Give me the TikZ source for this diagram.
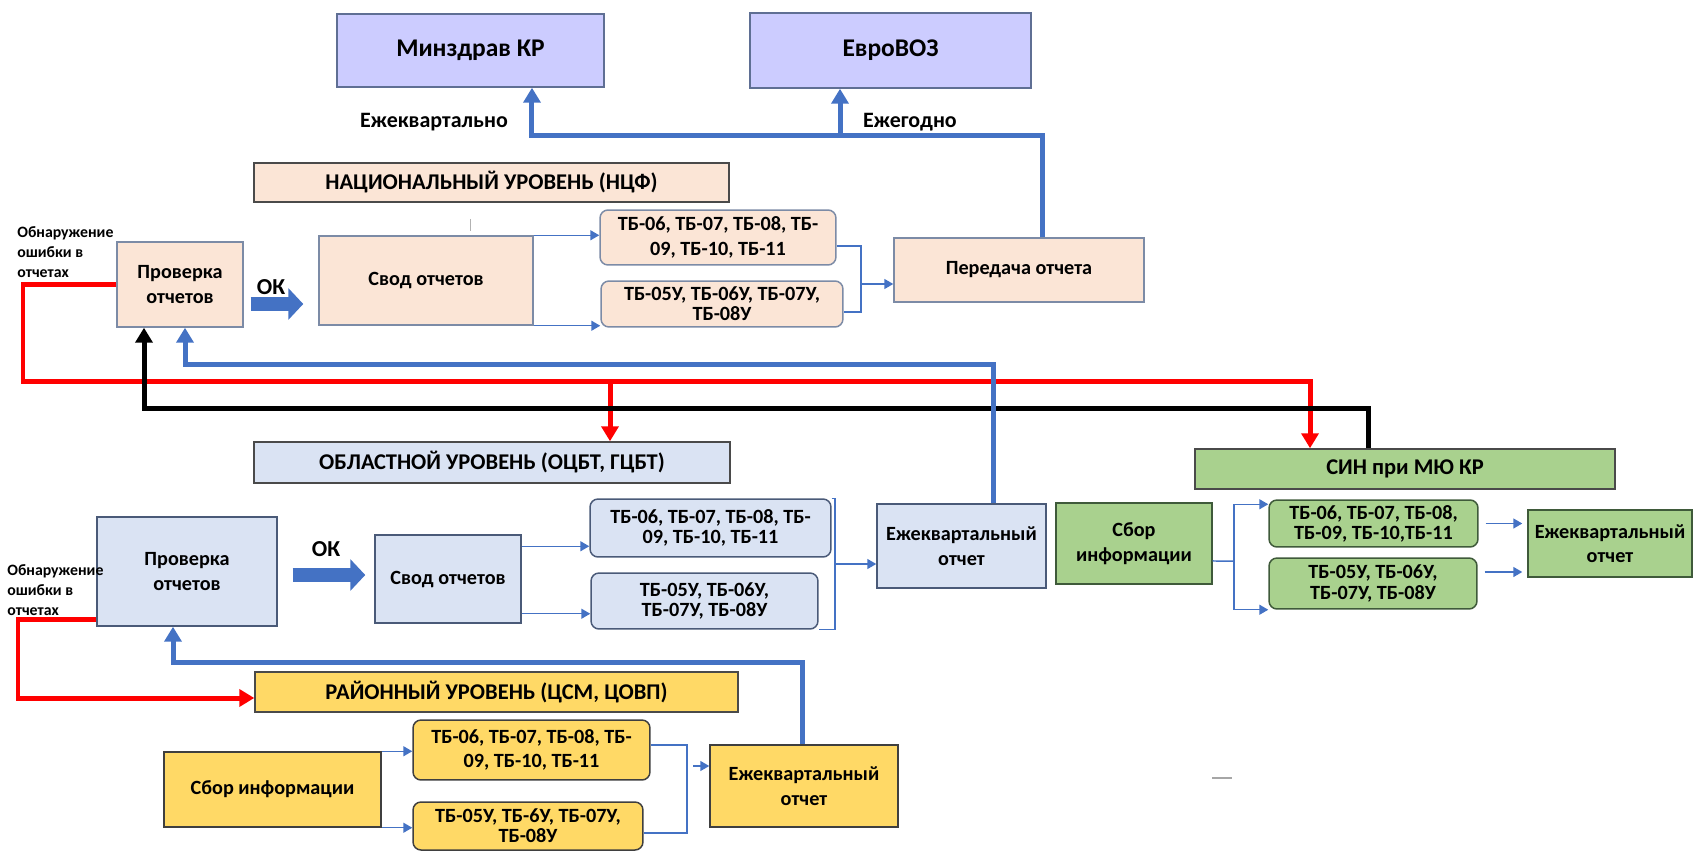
\documentclass[tikz,border=0pt]{standalone}
\usepackage{fontspec}
\setmainfont{Carlito}
\usetikzlibrary{arrows.meta}

\definecolor{lav}{HTML}{CCCCFF}
\definecolor{lavline}{HTML}{5F6F94}
\definecolor{peach}{HTML}{FBE5D6}
\definecolor{peachline}{HTML}{7C8BA6}
\definecolor{lblue}{HTML}{DAE3F3}
\definecolor{lblueline}{HTML}{4A5A78}
\definecolor{grn}{HTML}{A9D18E}
\definecolor{grnline}{HTML}{3F5A3A}
\definecolor{yel}{HTML}{FFD966}
\definecolor{yelline}{HTML}{3F3F3F}
\definecolor{headline}{HTML}{4A4A4A}
\definecolor{bluel}{HTML}{4472C4}

\begin{document}
\begin{tikzpicture}[x=0.02cm, y=-0.02cm,
    box/.style={draw, line width=0.03cm, align=center, inner sep=1pt,
      font=\bfseries\fontsize{11.5}{14}\selectfont},
    tbbox/.style={box, rounded corners=0.16cm},
    tight/.style={font=\bfseries\fontsize{11.5}{11.5}\selectfont},
    topbox/.style={box, fill=lav, draw=lavline,
      font=\bfseries\fontsize{14.5}{17}\selectfont},
    head/.style={box, draw=headline, font=\bfseries\fontsize{12.8}{15}\selectfont},
    natbox/.style={fill=peach, draw=peachline},
    oblbox/.style={fill=lblue, draw=lblueline},
    sinbox/.style={fill=grn, draw=grnline},
    raybox/.style={fill=yel, draw=yelline},
    fat/.style={line width=0.1cm, -{Triangle[width=0.34cm,length=0.3cm]}},
    fatblue/.style={fat, color=bluel},
    fatred/.style={fat, color=red},
    fatblack/.style={fat, color=black},
    link/.style={line width=0.03cm, color=bluel},
    linkarr/.style={link, -{Triangle[width=0.2cm,length=0.18cm]}},
    okarrow/.style={color=bluel, line width=0.28cm,
      -{Triangle[width=0.62cm,length=0.3cm]}},
    note/.style={font=\bfseries\fontsize{9}{11.4}\selectfont, align=left,
      inner sep=0pt},
    lbl/.style={font=\bfseries\fontsize{12.5}{15}\selectfont, inner sep=0pt}]
    \useasboundingbox (0,0) rectangle (1694,851);

    % top
    \node[topbox, minimum width=5.34cm, minimum height=1.46cm] (minz) at (470.5,50.5) {Минздрав КР};
    \node[topbox, minimum width=5.62cm, minimum height=1.5cm] (evro) at (890.5,50.5) {ЕвроВОЗ};
    \node[lbl] (lblQuart) at (434,122) {Ежеквартально};
    \node[lbl] (lblYear) at (910,122) {Ежегодно};

    % national level
    \node[natbox, head, minimum width=9.5cm, minimum height=0.78cm] (natHead) at (491.5,182.5) {НАЦИОНАЛЬНЫЙ УРОВЕНЬ (НЦФ)};
    \node[box, natbox, minimum width=2.52cm, minimum height=1.7cm] (natCheck) at (180,284.5) {Проверка\\отчетов};
    \node[box, natbox, minimum width=4.28cm, minimum height=1.78cm] (natSum) at (426,280.5) {Свод отчетов};
    \node[tbbox, natbox, minimum width=4.72cm, minimum height=1.1cm] (natTBa) at (718,237.5) {ТБ-06, ТБ-07, ТБ-08, ТБ-\\09, ТБ-10, ТБ-11};
    \node[tbbox, natbox, tight, minimum width=4.84cm, minimum height=0.92cm] (natTBb) at (722,304) {ТБ-05У, ТБ-06У, ТБ-07У,\\ТБ-08У};
    \node[box, natbox, minimum width=5cm, minimum height=1.28cm] (natSend) at (1019,270) {Передача отчета};
    \node[note, anchor=west] (natErr) at (17,252) {Обнаружение\\ошибки в\\отчетах};
    \node[lbl, font=\bfseries\fontsize{13}{15}\selectfont] (natOk) at (271,287) {ОК};

    % regional level
    \node[oblbox, head, minimum width=9.52cm, minimum height=0.82cm] (oblHead) at (492,462.5) {ОБЛАСТНОЙ УРОВЕНЬ (ОЦБТ, ГЦБТ)};
    \node[box, oblbox, minimum width=3.6cm, minimum height=2.18cm] (oblCheck) at (187,571.5) {Проверка\\отчетов};
    \node[box, oblbox, minimum width=2.92cm, minimum height=1.76cm] (oblSum) at (448,579) {Свод отчетов};
    \node[tbbox, oblbox, tight, minimum width=4.82cm, minimum height=1.16cm] (oblTBa) at (710.5,528) {ТБ-06, ТБ-07, ТБ-08, ТБ-\\09, ТБ-10, ТБ-11};
    \node[tbbox, oblbox, tight, minimum width=4.54cm, minimum height=1.12cm] (oblTBb) at (704.5,601) {ТБ-05У, ТБ-06У,\\ТБ-07У, ТБ-08У};
    \node[box, oblbox, minimum width=3.38cm, minimum height=1.68cm] (oblRep) at (961.5,546) {Ежеквартальный\\отчет};
    \node[note, anchor=west] (oblErr) at (7,590) {Обнаружение\\ошибки в\\отчетах};
    \node[lbl, font=\bfseries\fontsize{13}{15}\selectfont] (oblOk) at (326,549) {ОК};

    % penitentiary service
    \node[sinbox, head, minimum width=8.4cm, minimum height=0.8cm] (sinHead) at (1405,469) {СИН при МЮ КР};
    \node[box, sinbox, minimum width=3.12cm, minimum height=1.62cm] (sinCol) at (1134,543.5) {Сбор\\информации};
    \node[tbbox, sinbox, tight, minimum width=4.18cm, minimum height=0.94cm] (sinTBa) at (1373.5,523.5) {ТБ-06, ТБ-07, ТБ-08,\\ТБ-09, ТБ-10,ТБ-11};
    \node[tbbox, sinbox, tight, minimum width=4.16cm, minimum height=1.02cm] (sinTBb) at (1373,583.5) {ТБ-05У, ТБ-06У,\\ТБ-07У, ТБ-08У};
    \node[box, sinbox, minimum width=3.28cm, minimum height=1.34cm] (sinRep) at (1610,543.5) {Ежеквартальный\\отчет};

    % district level
    \node[raybox, head, minimum width=9.66cm, minimum height=0.8cm] (rayHead) at (496.5,692) {РАЙОННЫЙ УРОВЕНЬ (ЦСМ, ЦОВП)};
    \node[box, raybox, minimum width=4.34cm, minimum height=1.5cm] (rayCol) at (272.5,789.5) {Сбор информации};
    \node[tbbox, raybox, minimum width=4.74cm, minimum height=1.2cm] (rayTBa) at (531.5,750) {ТБ-06, ТБ-07, ТБ-08, ТБ-\\09, ТБ-10, ТБ-11};
    \node[tbbox, raybox, tight, minimum width=4.6cm, minimum height=0.96cm] (rayTBb) at (528,826) {ТБ-05У, ТБ-6У, ТБ-07У,\\ТБ-08У};
    \node[box, raybox, minimum width=3.76cm, minimum height=1.64cm] (rayRep) at (804,786) {Ежеквартальный\\отчет};

    % stray marks
    \draw[gray!60, line width=0.02cm] (470,219) -- (470,231);
    \draw[gray!70, line width=0.03cm] (1212,778) -- (1232,778);

    % reports going up
    \coordinate (topBus) at (840,136);
    \draw[fatblue] ([xshift=0.46cm]natSend.north) |- (topBus) -| ([xshift=1.23cm]minz.south);
    \draw[fatblue] (topBus) -- (topBus |- evro.south);

    % errors sent back
    \coordinate (redCorner) at (23,381);
    \coordinate (redFork) at (610,381);
    \draw[fatred] (natCheck.west) -| (redCorner) -| ([xshift=-1.9cm]sinHead.north);
    \draw[fatred] (redFork) -- (redFork |- oblHead.north);
    \coordinate (redCornerB) at (18,698);
    \draw[fatred] ([yshift=0.14cm]oblCheck.south west) -| (redCornerB) -- (redCornerB -| rayHead.west);

    \coordinate (blackCorner) at (144,408);
    \draw[fatblack] ([xshift=-0.74cm]sinHead.north) |- (blackCorner) -- (blackCorner |- natCheck.south);

    \coordinate (blueCorner) at (185,364);
    \draw[fatblue] ([xshift=0.63cm]oblRep.north) |- (blueCorner) -- (blueCorner |- natCheck.south);
    \coordinate (blueCornerB) at (173,662);
    \draw[fatblue] ([xshift=-0.04cm]rayRep.north) |- (blueCornerB) -- (blueCornerB |- oblCheck.south);

    % OK arrows
    \draw[okarrow] ([xshift=0.14cm,yshift=-0.39cm]natCheck.east) -- ([xshift=-0.3cm,yshift=-0.39cm]natCheck.east -| natSum.west);
    \draw[okarrow] ([xshift=0.3cm,yshift=-0.07cm]oblCheck.east) -- ([xshift=-0.18cm,yshift=-0.07cm]oblCheck.east -| oblSum.west);

    % thin links
    \draw[linkarr] (natSum.north east) -- (natSum.north east -| natTBa.west);
    \draw[linkarr] (natSum.south east) -- (natSum.south east -| natTBb.west);
    \coordinate (natJoin) at (861,284);
    \draw[link] ([yshift=-0.17cm]natTBa.east) -| (natJoin) |- ([yshift=-0.16cm]natTBb.east);
    \draw[linkarr] (natJoin) -- (natJoin -| natSend.west);

    \draw[linkarr] ([yshift=-0.24cm]oblSum.north east) -- ([yshift=-0.24cm]oblSum.north east -| oblTBa.west);
    \draw[linkarr] ([yshift=0.2cm]oblSum.south east) -- ([yshift=0.2cm]oblSum.south east -| oblTBb.west);
    \coordinate (oblJoin) at (835,564);
    \draw[link] (oblTBa.north east) -| (oblJoin) |- (oblTBb.south east);
    \draw[linkarr] (oblJoin) -- (oblJoin -| oblRep.west);

    \coordinate (sinJoin) at (1234,561);
    \draw[link] ([yshift=-0.35cm]sinCol.east) -- (sinJoin);
    \draw[linkarr] (sinJoin) |- ([yshift=-0.1cm]sinTBa.north west);
    \draw[linkarr] (sinJoin) |- (sinTBb.south west);
    \draw[linkarr, shorten <=0.14cm, shorten >=0.1cm] (sinTBa.east) -- (sinTBa.east -| sinRep.west);
    \draw[linkarr, shorten <=0.14cm, shorten >=0.1cm] ([yshift=0.23cm]sinTBb.east) -- ([yshift=0.23cm]sinTBb.east -| sinRep.west);

    \draw[linkarr] (rayCol.north east) -- (rayCol.north east -| rayTBa.west);
    \draw[linkarr] (rayCol.south east) -- (rayCol.south east -| rayTBb.west);
    \coordinate (rayJoin) at (687,766);
    \draw[link] ([yshift=0.1cm]rayTBa.east) -| (rayJoin) |- ([yshift=-0.14cm]rayTBb.east);
    \draw[linkarr, shorten <=0.12cm] (rayJoin) -- (rayJoin -| rayRep.west);
\end{tikzpicture}
\end{document}
